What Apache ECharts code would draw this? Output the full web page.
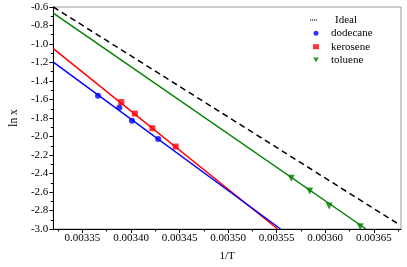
<!DOCTYPE html>
<html>
<head>
<meta charset="utf-8">
<script src="https://cdn.jsdelivr.net/npm/echarts@6/dist/echarts.min.js"></script>
<style>
html,body{margin:0;padding:0;background:#fff}
#chart{width:407px;height:267px}
</style>
</head>
<body>
<div id="chart"></div>
<script>
// tick positions on 1/T
var xMajor = [0.00335, 0.00340, 0.00345, 0.00350, 0.00355, 0.00360, 0.00365];
var xMinor = [0.003325, 0.003375, 0.003425, 0.003475, 0.003525, 0.003575, 0.003625, 0.003675];

// measured points
var dodecaneX = [0.003366, 0.003388, 0.003401, 0.003428];
var dodecaneY = [-1.560, -1.687, -1.831, -2.026];
var keroseneX = [0.003390, 0.003404, 0.003422, 0.003446];
var keroseneY = [-1.628, -1.752, -1.910, -2.109];
var tolueneX = [0.003565, 0.003584, 0.003604, 0.003636];
var tolueneY = [-2.451, -2.589, -2.751, -2.975];

// fitted lines (end points)
var idealX = [0.00332, 0.003675];
var idealY = [-0.6, -2.945];
var dodecaneFitX = [0.00332, 0.003554];
var dodecaneFitY = [-1.195, -3.0];
var keroseneFitX = [0.00332, 0.003551];
var keroseneFitY = [-1.05, -3.0];
var tolueneFitX = [0.00332, 0.003642];
var tolueneFitY = [-0.665, -3.0];

function pairs(xs, ys){
	var out = [];
	for(var i=0;i<xs.length;i++){
		out.push([xs[i], ys[i]]);
	}
	return out;
}

var font = 'Liberation Serif';
var blue = '#0000ff', red = '#ff0000', green = '#008000';

var myChart = echarts.init(document.getElementById('chart'));
myChart.setOption({
	animation:false,
	grid:{
		left:42, right:6, top:7, bottom:38,
		show:true, borderColor:'#999', borderWidth:1
	},
	legend:[{
		data:[{name:'Ideal', icon:'path://M0,0H1.2V1H0Z M2,0H3.2V1H2Z M4,0H5.2V1H4Z M6,0H7.2V1H6Z'}],
		left:310, top:13.3, padding:0,
		itemWidth:7, itemHeight:1,
		textStyle:{fontFamily:font, fontSize:11, color:'#000', lineHeight:13.4, padding:[0,0,0,13]}
	},{
		data:[
			{name:'dodecane', icon:'circle'},
			{name:'kerosene', icon:'rect'},
			{name:'toluene', icon:'path://M0,0L10,0L5,9Z'}
		],
		orient:'vertical',
		left:313, top:26.6, padding:0, itemGap:0,
		itemWidth:6, itemHeight:5,
		textStyle:{fontFamily:font, fontSize:11, color:'#000', lineHeight:13.4, padding:[0,0,0,7]}
	}],
	xAxis:[{
		type:'value',
		min:0.00332, max:0.003678,
		name:'1/T', nameLocation:'middle', nameGap:22,
		nameTextStyle:{fontFamily:font, fontSize:11, color:'#000'},
		axisLine:{lineStyle:{color:'#000'}},
		axisTick:{show:true, inside:false, length:4, customValues:xMajor, lineStyle:{color:'#000'}},
		axisLabel:{customValues:xMajor, fontFamily:font, fontSize:11, color:'#000', margin:4,
			formatter:function(v){ return v.toFixed(5); }},
		splitLine:{show:false}
	},{
		type:'value', position:'bottom',
		min:0.00332, max:0.003678,
		axisLine:{show:false},
		axisTick:{show:true, inside:false, length:2.5, customValues:xMinor, lineStyle:{color:'#000'}},
		axisLabel:{show:false},
		splitLine:{show:false}
	}],
	yAxis:{
		type:'value',
		min:-3.0, max:-0.6, interval:0.2,
		name:'ln x', nameLocation:'middle', nameGap:33,
		nameTextStyle:{fontFamily:font, fontSize:11.5, color:'#000'},
		axisLine:{show:true, lineStyle:{color:'#000'}},
		axisTick:{show:true, inside:false, length:4, lineStyle:{color:'#000'}},
		minorTick:{show:true, splitNumber:2, length:2.5, lineStyle:{color:'#000'}},
		axisLabel:{fontFamily:font, fontSize:11, color:'#000', margin:5,
			formatter:function(v){ return v.toFixed(1); }},
		splitLine:{show:false}
	},
	series:[{
		name:'Ideal', type:'line', symbol:'none', clip:true,
		data:pairs(idealX, idealY),
		itemStyle:{color:'#000'},
		lineStyle:{color:'#000', width:1.5, type:[6,4]}
	},{
		name:'toluene fit', type:'line', symbol:'none', clip:true,
		data:pairs(tolueneFitX, tolueneFitY),
		lineStyle:{color:green, width:1.5}
	},{
		name:'kerosene fit', type:'line', symbol:'none', clip:true,
		data:pairs(keroseneFitX, keroseneFitY),
		lineStyle:{color:red, width:1.5}
	},{
		name:'dodecane fit', type:'line', symbol:'none', clip:true,
		data:pairs(dodecaneFitX, dodecaneFitY),
		lineStyle:{color:blue, width:1.5}
	},{
		name:'dodecane', type:'scatter', symbol:'circle', symbolSize:6,
		data:pairs(dodecaneX, dodecaneY),
		itemStyle:{color:blue}
	},{
		name:'kerosene', type:'scatter', symbol:'rect', symbolSize:6,
		data:pairs(keroseneX, keroseneY),
		itemStyle:{color:red}
	},{
		name:'toluene', type:'scatter', symbol:'triangle', symbolRotate:180, symbolSize:7,
		data:pairs(tolueneX, tolueneY),
		itemStyle:{color:green}
	}]
});
</script>
</body>
</html>
